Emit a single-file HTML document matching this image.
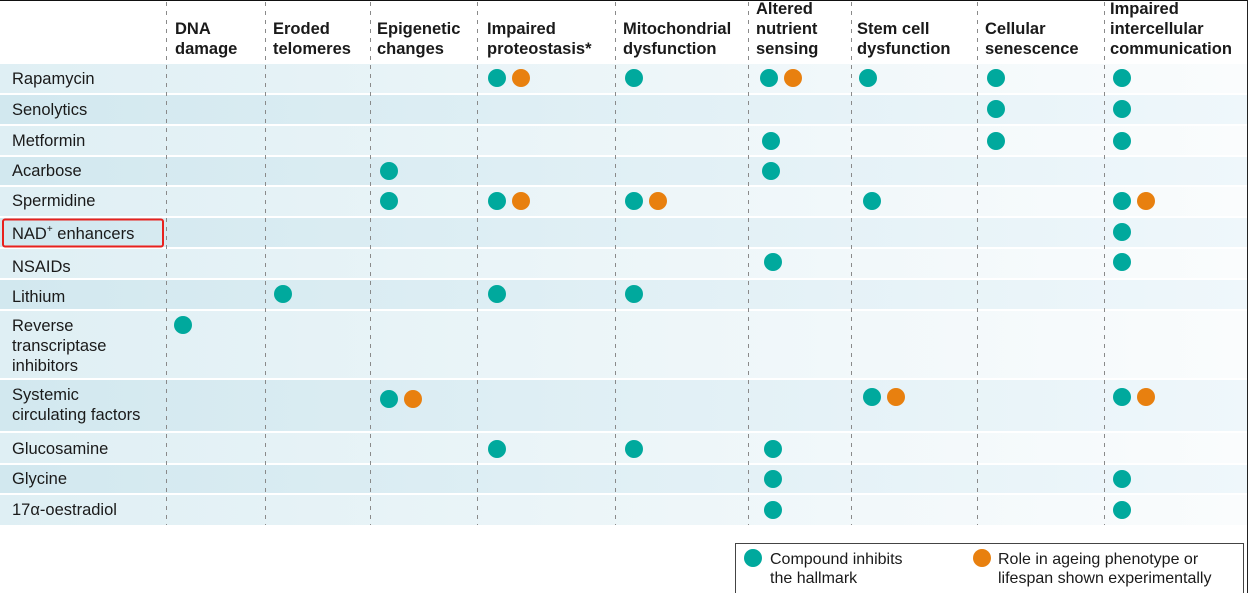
<!DOCTYPE html>
<html><head><meta charset="utf-8"><style>
html,body{margin:0;padding:0;background:#fff;}
svg{display:block;font-family:"Liberation Sans",sans-serif;}
.h{font-weight:bold;font-size:16.5px;fill:#1a1a1a;}
.r{font-size:16.5px;fill:#1a1a1a;}
.l{font-size:16px;fill:#1a1a1a;}
</style></head><body>
<svg width="1248" height="593" viewBox="0 0 1248 593" xmlns="http://www.w3.org/2000/svg">
<defs>
<linearGradient id="gd" x1="0" x2="1" y1="0" y2="0"><stop offset="0" stop-color="#d2e8ef"/><stop offset="1" stop-color="#eff7fb"/></linearGradient>
<linearGradient id="gl" x1="0" x2="1" y1="0" y2="0"><stop offset="0" stop-color="#dfeff4"/><stop offset="1" stop-color="#fafcfd"/></linearGradient>
</defs>
<rect x="0" y="0" width="1248" height="593" fill="#fff"/>
<rect x="0" y="64" width="1248" height="29" fill="url(#gl)"/>
<rect x="0" y="95" width="1248" height="29" fill="url(#gd)"/>
<rect x="0" y="126" width="1248" height="29" fill="url(#gl)"/>
<rect x="0" y="157" width="1248" height="28" fill="url(#gd)"/>
<rect x="0" y="187" width="1248" height="29" fill="url(#gl)"/>
<rect x="0" y="218" width="1248" height="29" fill="url(#gd)"/>
<rect x="0" y="249" width="1248" height="29" fill="url(#gl)"/>
<rect x="0" y="280" width="1248" height="29" fill="url(#gd)"/>
<rect x="0" y="311" width="1248" height="67" fill="url(#gl)"/>
<rect x="0" y="380" width="1248" height="51" fill="url(#gd)"/>
<rect x="0" y="433" width="1248" height="30" fill="url(#gl)"/>
<rect x="0" y="465" width="1248" height="28" fill="url(#gd)"/>
<rect x="0" y="495" width="1248" height="30" fill="url(#gl)"/>
<g stroke="#8a8a8a" stroke-width="1" stroke-dasharray="4,5">
<line x1="166.5" y1="2" x2="166.5" y2="525"/>
<line x1="265.5" y1="2" x2="265.5" y2="525"/>
<line x1="370.5" y1="2" x2="370.5" y2="525"/>
<line x1="477.5" y1="2" x2="477.5" y2="525"/>
<line x1="615.5" y1="2" x2="615.5" y2="525"/>
<line x1="748.5" y1="2" x2="748.5" y2="525"/>
<line x1="851.5" y1="2" x2="851.5" y2="525"/>
<line x1="977.5" y1="2" x2="977.5" y2="525"/>
<line x1="1104.5" y1="2" x2="1104.5" y2="525"/>
</g>
<line x1="0" y1="0.5" x2="1248" y2="0.5" stroke="#111"/>
<line x1="1247.5" y1="0" x2="1247.5" y2="593" stroke="#222"/>
<g class="h">
<text x="175" y="34">DNA</text><text x="175" y="54">damage</text>
<text x="273" y="34">Eroded</text><text x="273" y="54">telomeres</text>
<text x="377" y="34">Epigenetic</text><text x="377" y="54">changes</text>
<text x="487" y="34">Impaired</text><text x="487" y="54">proteostasis*</text>
<text x="623" y="34">Mitochondrial</text><text x="623" y="54">dysfunction</text>
<text x="756" y="14">Altered</text><text x="756" y="34">nutrient</text><text x="756" y="54">sensing</text>
<text x="857" y="34">Stem cell</text><text x="857" y="54">dysfunction</text>
<text x="985" y="34">Cellular</text><text x="985" y="54">senescence</text>
<text x="1110" y="14">Impaired</text><text x="1110" y="34">intercellular</text><text x="1110" y="54">communication</text>
</g>
<g class="r">
<text x="12" y="84">Rapamycin</text>
<text x="12" y="115">Senolytics</text>
<text x="12" y="146">Metformin</text>
<text x="12" y="176">Acarbose</text>
<text x="12" y="206">Spermidine</text>
<text x="12" y="239">NAD<tspan dy="-7" font-size="10">+</tspan><tspan dy="7"> enhancers</tspan></text>
<text x="12" y="272">NSAIDs</text>
<text x="12" y="302">Lithium</text>
<text x="12" y="331">Reverse</text>
<text x="12" y="351">transcriptase</text>
<text x="12" y="371">inhibitors</text>
<text x="12" y="400">Systemic</text>
<text x="12" y="420">circulating factors</text>
<text x="12" y="454">Glucosamine</text>
<text x="12" y="484">Glycine</text>
<text x="12" y="515">17α-oestradiol</text>
</g>
<rect x="3" y="219.5" width="160" height="27" fill="none" stroke="#e8211d" stroke-width="2" rx="2"/>
<g fill="#00a99d">
<circle cx="497" cy="78" r="9"/><circle cx="634" cy="78" r="9"/><circle cx="769" cy="78" r="9"/><circle cx="868" cy="78" r="9"/><circle cx="996" cy="78" r="9"/><circle cx="1122" cy="78" r="9"/>
<circle cx="996" cy="109" r="9"/><circle cx="1122" cy="109" r="9"/>
<circle cx="771" cy="141" r="9"/><circle cx="996" cy="141" r="9"/><circle cx="1122" cy="141" r="9"/>
<circle cx="389" cy="171" r="9"/><circle cx="771" cy="171" r="9"/>
<circle cx="389" cy="201" r="9"/><circle cx="497" cy="201" r="9"/><circle cx="634" cy="201" r="9"/><circle cx="872" cy="201" r="9"/><circle cx="1122" cy="201" r="9"/>
<circle cx="1122" cy="232" r="9"/>
<circle cx="773" cy="262" r="9"/><circle cx="1122" cy="262" r="9"/>
<circle cx="283" cy="294" r="9"/><circle cx="497" cy="294" r="9"/><circle cx="634" cy="294" r="9"/>
<circle cx="183" cy="325" r="9"/>
<circle cx="389" cy="399" r="9"/><circle cx="872" cy="397" r="9"/><circle cx="1122" cy="397" r="9"/>
<circle cx="497" cy="449" r="9"/><circle cx="634" cy="449" r="9"/><circle cx="773" cy="449" r="9"/>
<circle cx="773" cy="479" r="9"/><circle cx="1122" cy="479" r="9"/>
<circle cx="773" cy="510" r="9"/><circle cx="1122" cy="510" r="9"/>
<circle cx="753" cy="558" r="9"/>
</g>
<g fill="#e8800f">
<circle cx="521" cy="78" r="9"/><circle cx="793" cy="78" r="9"/>
<circle cx="521" cy="201" r="9"/><circle cx="658" cy="201" r="9"/><circle cx="1146" cy="201" r="9"/>
<circle cx="413" cy="399" r="9"/><circle cx="896" cy="397" r="9"/><circle cx="1146" cy="397" r="9"/>
<circle cx="982" cy="558" r="9"/>
</g>
<rect x="735.5" y="543.5" width="508" height="52" fill="none" stroke="#444"/>
<g class="l">
<text x="770" y="564">Compound inhibits</text><text x="770" y="583">the hallmark</text>
<text x="998" y="564">Role in ageing phenotype or</text><text x="998" y="583">lifespan shown experimentally</text>
</g>
</svg>
</body></html>
